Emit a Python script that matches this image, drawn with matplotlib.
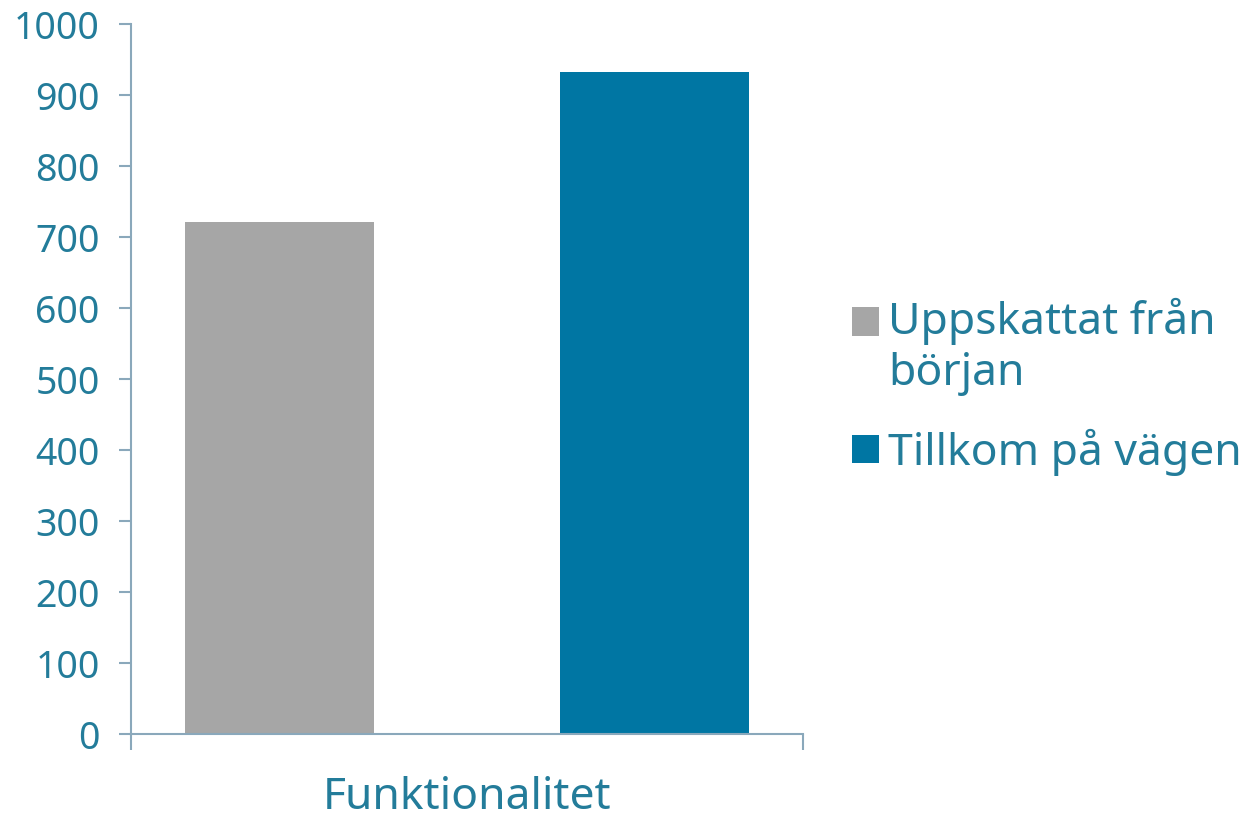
import matplotlib
matplotlib.use("Agg")
import matplotlib.pyplot as plt
import numpy as np

categories = ["Funktionalitet"]
series_names = ["Uppskattat från\nbörjan", "Tillkom på vägen"]
series_values = [[722], [933]]
series_colors = ["#a6a6a6", "#0076a3"]
y_ticks = [0, 100, 200, 300, 400, 500, 600, 700, 800, 900, 1000]

text_color = "#237c9a"
axis_color = "#8aa8bb"
plt.rcParams['font.family'] = ['Noto Sans', 'DejaVu Sans']

fig = plt.figure(figsize=(12.58, 8.22), dpi=100)
ax = fig.add_axes([131/1258, 1 - 734.3/822, (803-131)/1258, (734.3-24.3)/822])

x = np.arange(len(categories))
offsets = [-0.279, 0.279]
width = 0.28
handles = []
for i, (vals, col) in enumerate(zip(series_values, series_colors)):
    h = ax.bar(x + offsets[i], vals, width, color=col, label=series_names[i], zorder=2)
    handles.append(h)

ax.set_xlim(-0.5, len(categories) - 0.5)
ax.set_ylim(0, 1000)
ax.set_yticks(y_ticks)
ax.set_yticklabels([str(t) for t in y_ticks], fontsize=27, color=text_color)

ax.set_xticks([-0.5, len(categories) - 0.5])
ax.set_xticklabels(["", ""])
ax.set_xticks(x, minor=True)
ax.set_xticklabels(categories, minor=True, fontsize=32, color=text_color)
ax.tick_params(axis='x', which='minor', length=0, pad=30)
ax.tick_params(axis='x', which='major', length=11.5, width=1.5, color=axis_color, direction='out')
ax.tick_params(axis='y', length=8.6, width=1.5, color=axis_color, direction='out', pad=14)

for s in ['top', 'right']:
    ax.spines[s].set_visible(False)
for s in ['left', 'bottom']:
    ax.spines[s].set_color(axis_color)
    ax.spines[s].set_linewidth(1.5)

leg = fig.legend(handles=handles, labels=series_names, loc='center left',
                 bbox_to_anchor=(852/1258, 1 - 387/822), frameon=False,
                 fontsize=32, handlelength=0.6, handleheight=0.6,
                 handletextpad=0.22, labelspacing=0.74, borderaxespad=0,
                 borderpad=0)
for t in leg.get_texts():
    t.set_color(text_color)
# align the first marker with the first line of its two-line label
first = leg.legend_handles[0]
first.set_y(first.get_y() + 19)

fig.savefig("out.png", dpi=100)
